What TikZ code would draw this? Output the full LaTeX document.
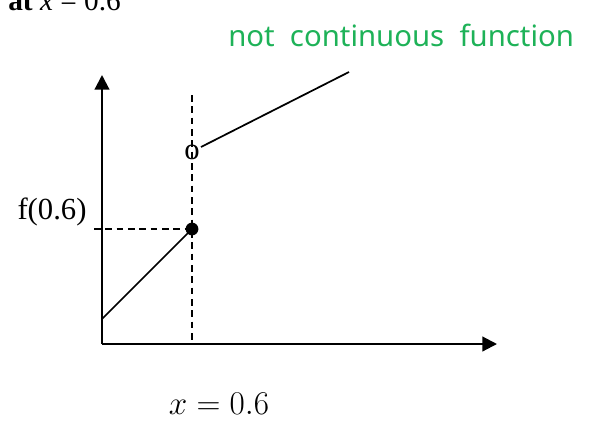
\documentclass[tikz,border=0pt]{standalone}
\usepackage{fontspec}
\setmainfont{Liberation Serif}
\newfontfamily\handfont{Noto Sans}
\usepackage{amsmath}
\usetikzlibrary{arrows.meta}
\tikzset{>={Triangle[width=11pt,length=11pt]}}
\definecolor{inkgreen}{RGB}{30,178,88}

\begin{document}
\begin{tikzpicture}[x=0.75pt,y=-0.75pt]
  % canvas
  \useasboundingbox (0,0) rectangle (589,422);
  \clip (0,0) rectangle (589,422);
  % Define points
  \coordinate (O) at (102,344);
  \coordinate (ytip) at (102,75);
  \coordinate (xtip) at (497,344);
  \coordinate (yint) at (102,319);
  \coordinate (dtop) at (192,95);
  \coordinate (dbot) at (192,342);
  \coordinate (hstart) at (94,229);
  \coordinate (up0) at (201,147);
  \coordinate (up1) at (349,72);

  % Axes
  \draw[->, line width=1.6pt] (O) -- (ytip);
  \draw[->, line width=1.6pt] (O) -- (xtip);

  % Dashed guides
  \draw[dashed, line width=1.2pt, dash pattern=on 5pt off 3.5pt] (dtop) -- (dbot);
  \draw[dashed, line width=1.2pt, dash pattern=on 5pt off 3.5pt] (hstart) -- (192,229);

  % Pieces of the function
  \fill (192,229) circle (4.8pt) coordinate (dot);
  \draw[-, line width=1.3pt] (yint) -- (dot);
  \node[inner sep=0pt, font=\fontsize{23}{26}\selectfont] (hole) at (192,152) {o};
  \draw[-, line width=1.3pt] (up0) -- (up1);

  % Labels
  \node[font=\fontsize{23}{26}\selectfont] (fval) at (52,212) {f(0.6)};
  \node[font=\fontsize{24}{28}\selectfont] (xval) at (219,404) {$x = 0.6$};
  \node[anchor=base west, inner sep=0pt, font=\fontsize{22}{26}\selectfont] (title) at (8,10) {\textbf{at} \textit{x} = 0.6};
  \node[anchor=base west, inner sep=0pt, text=inkgreen, font=\handfont\fontsize{22}{26}\selectfont] (note) at (228,46) {not\ \ continuous\ \ function};
\end{tikzpicture}
\end{document}
